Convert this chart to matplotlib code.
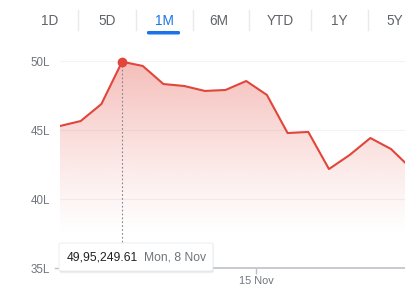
import numpy as np
import matplotlib
matplotlib.use("Agg")
import matplotlib.pyplot as plt
from matplotlib.patches import FancyBboxPatch
from matplotlib.colors import to_rgb

plt.rcParams['font.family'] = ['Liberation Sans', 'DejaVu Sans']

# Data (values in lakhs)
values = [45.29, 45.65, 46.88, 49.95, 49.64, 48.33, 48.19, 47.83, 47.90,
          48.55, 47.54, 44.78, 44.86, 42.17, 43.19, 44.42, 43.62, 42.17]
peak_index = 3
peak_value_label = "49,95,249.61"
peak_date_label = "Mon, 8 Nov"
yticks = [35, 40, 45, 50]
ytick_labels = ["35L", "40L", "45L", "50L"]
xtick_pos = [9.47]
xtick_labels = ["15 Nov"]
tabs = ["1D", "5D", "1M", "6M", "YTD", "1Y", "5Y"]
active_tab = "1M"

W, H = 406, 293
fig = plt.figure(figsize=(W / 100, H / 100), dpi=100)

def fx(px):
    return px / W

def fy(py):
    return 1 - py / H

# axes region in pixels
ax_l, ax_r, ax_t, ax_b = 60, 406, 45, 268
ax = fig.add_axes([fx(ax_l), fy(ax_b), fx(ax_r - ax_l), (ax_b - ax_t) / H])
px_per_unit = (268 - 61) / 15.0
ymin = 35
ymax = 35 + (ax_b - ax_t) / px_per_unit
ax.set_ylim(ymin, ymax)
xmax = (ax_r - ax_l) / 20.69
ax.set_xlim(0, xmax)

red = "#e2453a"
x = np.arange(len(values))
v = np.array(values)

# gradient fill
poly = ax.fill_between(x, v, ymin, color="none", lw=0)
rgb = to_rgb(red)
grad = np.zeros((256, 1, 4))
grad[:, 0, 0:3] = rgb
a = np.linspace(0.0, 1.0, 256)
grad[:, 0, 3] = 0.36 * np.clip((a - 0.15) / 0.85, 0, 1) ** 1.2
im = ax.imshow(grad, aspect="auto", origin="lower",
               extent=[0, len(values), ymin, 50.2], zorder=1)
paths = poly.get_paths()
im.set_clip_path(paths[0], transform=ax.transData)

ax.plot(x, v, color=red, lw=1.5, zorder=3, solid_joinstyle="round")
ax.plot([x[peak_index]], [v[peak_index]], "o", color=red, ms=6, zorder=4, clip_on=False)

# dotted vertical line
tooltip_top_val = ymin + (268 - 242) / px_per_unit
ax.plot([x[peak_index]] * 2, [tooltip_top_val, v[peak_index]], ls=(0, (1.5, 2)),
        color="#80868b", lw=0.8, zorder=2)

# gridlines
for t in yticks[1:]:
    ax.axhline(t, color="#f1f3f4", lw=0.8, zorder=0)

for s in ["top", "right", "left"]:
    ax.spines[s].set_visible(False)
ax.spines["bottom"].set_color("#bdc1c6")
ax.spines["bottom"].set_linewidth(1.2)

ax.set_yticks(yticks)
ax.set_yticklabels(ytick_labels)
ax.set_xticks(xtick_pos)
ax.set_xticklabels(xtick_labels)
ax.tick_params(axis="y", length=0, pad=7, labelsize=8.3, colors="#70757a")
ax.tick_params(axis="x", length=4, width=1, color="#bdc1c6", pad=2,
               labelsize=7.8, labelcolor="#70757a")
# small tick at 35L
ax.plot([-0.25, 0], [35, 35], color="#bdc1c6", lw=1, clip_on=False)

# tooltip
tt_l, tt_r, tt_t, tt_b = 59, 213, 243, 271
for off, al in [(2.5, "#00000008"), (1.5, "#00000012")]:
    shadow = FancyBboxPatch((fx(tt_l + off * 0.3), fy(tt_b + off)), fx(tt_r - tt_l), (tt_b - tt_t) / H,
                            boxstyle="round,pad=0,rounding_size=0.005",
                            transform=fig.transFigure, facecolor=al,
                            edgecolor="none", zorder=10)
    fig.add_artist(shadow)
box = FancyBboxPatch((fx(tt_l), fy(tt_b)), fx(tt_r - tt_l), (tt_b - tt_t) / H,
                     boxstyle="round,pad=0,rounding_size=0.005",
                     transform=fig.transFigure, facecolor="white",
                     edgecolor="#e8eaed", lw=0.6, zorder=11)
fig.add_artist(box)
fig.text(fx(67), fy(257.5), peak_value_label, fontsize=8.7, color="#202124",
         va="center", ha="left", zorder=12)
fig.text(fx(144), fy(257.5), peak_date_label, fontsize=8.7, color="#70757a",
         va="center", ha="left", zorder=12)

# tabs
tab_x = [50, 107, 164, 219, 280, 339, 395]
sep_x = [78, 136, 193, 249, 311, 368]
for name, tx in zip(tabs, tab_x):
    c = "#1a73e8" if name == active_tab else "#5f6368"
    fig.text(fx(tx), fy(21), name, fontsize=9.8, color=c, ha="center", va="center")
for sx in sep_x:
    fig.add_artist(plt.Line2D([fx(sx)] * 2, [fy(10), fy(30)], color="#e8eaed",
                              lw=1, transform=fig.transFigure))
ul = FancyBboxPatch((fx(147), fy(34.5)), fx(33), 3.5 / H,
                    boxstyle="round,pad=0,rounding_size=0.004",
                    transform=fig.transFigure, facecolor="#1a73e8", edgecolor="none")
fig.add_artist(ul)

fig.savefig("out.png", dpi=100)
